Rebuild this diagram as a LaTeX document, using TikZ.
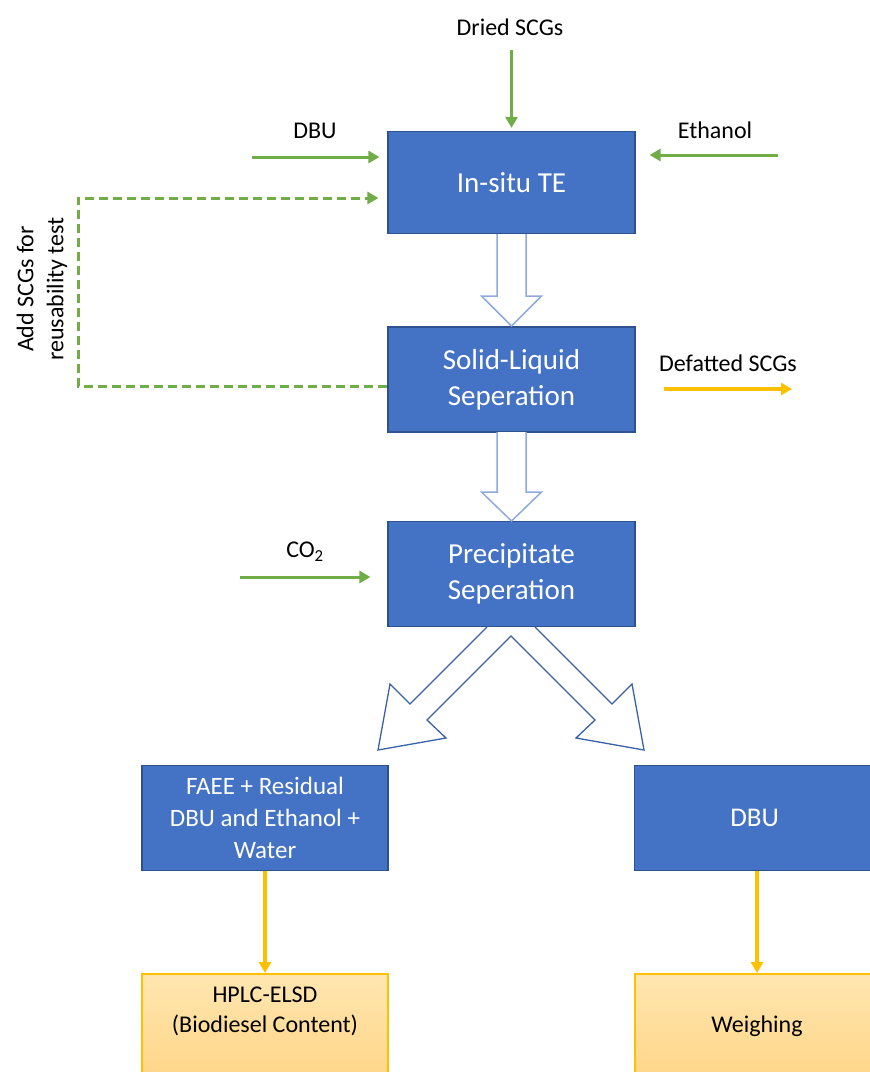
\documentclass[tikz,border=0pt]{standalone}
\usepackage{fontspec}
\setmainfont{Carlito}
\usetikzlibrary{arrows.meta,calc}
\definecolor{boxblue}{HTML}{4472C4}
\definecolor{boxedge}{HTML}{2F528F}
\definecolor{grn}{HTML}{70AD47}
\definecolor{ylw}{HTML}{FFC000}
\definecolor{barrow}{HTML}{8FAADC}
\definecolor{darrow}{HTML}{3A62A8}
\definecolor{orTop}{HTML}{FFE6B0}
\definecolor{orBot}{HTML}{FFD586}
\begin{document}
\begin{tikzpicture}[x=1pt,y=-1pt,
  bluebox/.style={draw=boxedge, line width=1.2pt, fill=boxblue, text=white, align=center, inner sep=0pt},
  orangebox/.style={draw=ylw, line width=1.5pt, top color=orTop, bottom color=orBot, inner sep=0pt},
  bigtext/.style={font=\fontsize{29}{36}\selectfont},
  midtext/.style={font=\fontsize{25}{32}\selectfont},
  lbl/.style={font=\fontsize{24}{30}\selectfont, text=black, inner sep=0pt, align=center},
  grnarrow/.style={draw=grn, line width=3pt, -{Triangle[length=11pt,width=12pt]}},
  grndash/.style={draw=grn, line width=3pt, dash pattern=on 9pt off 5pt, -{Triangle[length=11pt,width=12pt]}},
  ylwarrow/.style={draw=ylw, line width=3.2pt, -{Triangle[length=11pt,width=12pt]}},
  blockarrow/.style={draw=barrow, line width=1.5pt, fill=white},
  diagarrow/.style={draw=darrow, line width=1.3pt, fill=white, line join=miter}
]
\useasboundingbox (0,0) rectangle (870,1072);

% main boxes
\node[bluebox, bigtext, minimum width=247pt, minimum height=102pt] (te) at (511.5,182.5) {In-situ TE};
\node[bluebox, bigtext, minimum width=247pt, minimum height=105pt] (sl) at (511.5,379.5) {Solid-Liquid\\Seperation};
\node[bluebox, bigtext, minimum width=247pt, minimum height=105pt] (ps) at (511.5,574.2) {Precipitate\\Seperation};
\node[bluebox, midtext, minimum width=246pt, minimum height=105pt] (faee) at (265,818) {FAEE + Residual\\DBU and Ethanol +\\Water};
\node[bluebox, font=\fontsize{27}{32}\selectfont, minimum width=240pt, minimum height=105pt, anchor=west] (dbu) at (634,818) {DBU};
\node[orangebox, minimum width=246pt, minimum height=110pt, anchor=north] (hplc) at (265,973) {};
\node[orangebox, minimum width=240pt, minimum height=110pt, anchor=north west] (weigh) at (634,973) {};
\node[lbl] (hplctxt) at (265,1011) {HPLC-ELSD\\(Biodiesel Content)};
\node[lbl] (weightxt) at (757,1026) {Weighing};

% labels
\node[lbl] (ldried) at (510,27) {Dried SCGs};
\node[lbl] (ldbu) at (315,131) {DBU};
\node[lbl] (leth) at (715,130) {Ethanol};
\node[lbl] (ldef) at (728,363) {Defatted SCGs};
\node[lbl] (lco2) at (305,552) {CO\textsubscript{2}};
\node[lbl, rotate=90] (ladd) at (42,289) {Add SCGs for\\reusability test};

% free ends
\coordinate (dried0) at (511.5,50);
\coordinate (dbu0) at (252,157);
\coordinate (eth0) at (778,155);
\coordinate (co20) at (240,577);
\coordinate (def1) at (792,389);
\coordinate (loopA) at (78,386);
\coordinate (loopB) at (78,198);

% green inputs
\draw[grnarrow, shorten >=3pt] (dried0) -- (te.north);
\draw[grnarrow] (dbu0) -- ($(te.west|-dbu0)+(-8,0)$);
\draw[grnarrow] (eth0) -- ($(te.east|-eth0)+(14,0)$);
\draw[grnarrow] (co20) -- ($(ps.west|-co20)+(-17,0)$);
\draw[grndash] (sl.west|-loopA) -- (loopA) -- (loopB) -- ($(te.west|-loopB)+(-9,0)$);

% yellow outputs
\draw[ylwarrow] ($(sl.east|-def1)+(28,0)$) -- (def1);
\draw[ylwarrow] (faee.south) -- (hplc.north);
\draw[ylwarrow] (dbu.south-|weightxt) -- (weigh.north-|weightxt);

% block arrows (vertical)
\draw[blockarrow] (497,234) -- (497,296) -- (481.5,296) -- (511.5,326) -- (541.5,296) -- (526,296) -- (526,234);
\draw[blockarrow] (497,432) -- (497,492) -- (481.5,492) -- (511.5,521) -- (541.5,492) -- (526,492) -- (526,432);

% split block arrows
\draw[diagarrow] (487,627) -- (410,704) -- (390,684) -- (378,750) -- (446,738) -- (427,720)
  -- (511,636) -- (595,720) -- (576,738) -- (644,750) -- (632,684) -- (612,704) -- (535,627);
\end{tikzpicture}
\end{document}
